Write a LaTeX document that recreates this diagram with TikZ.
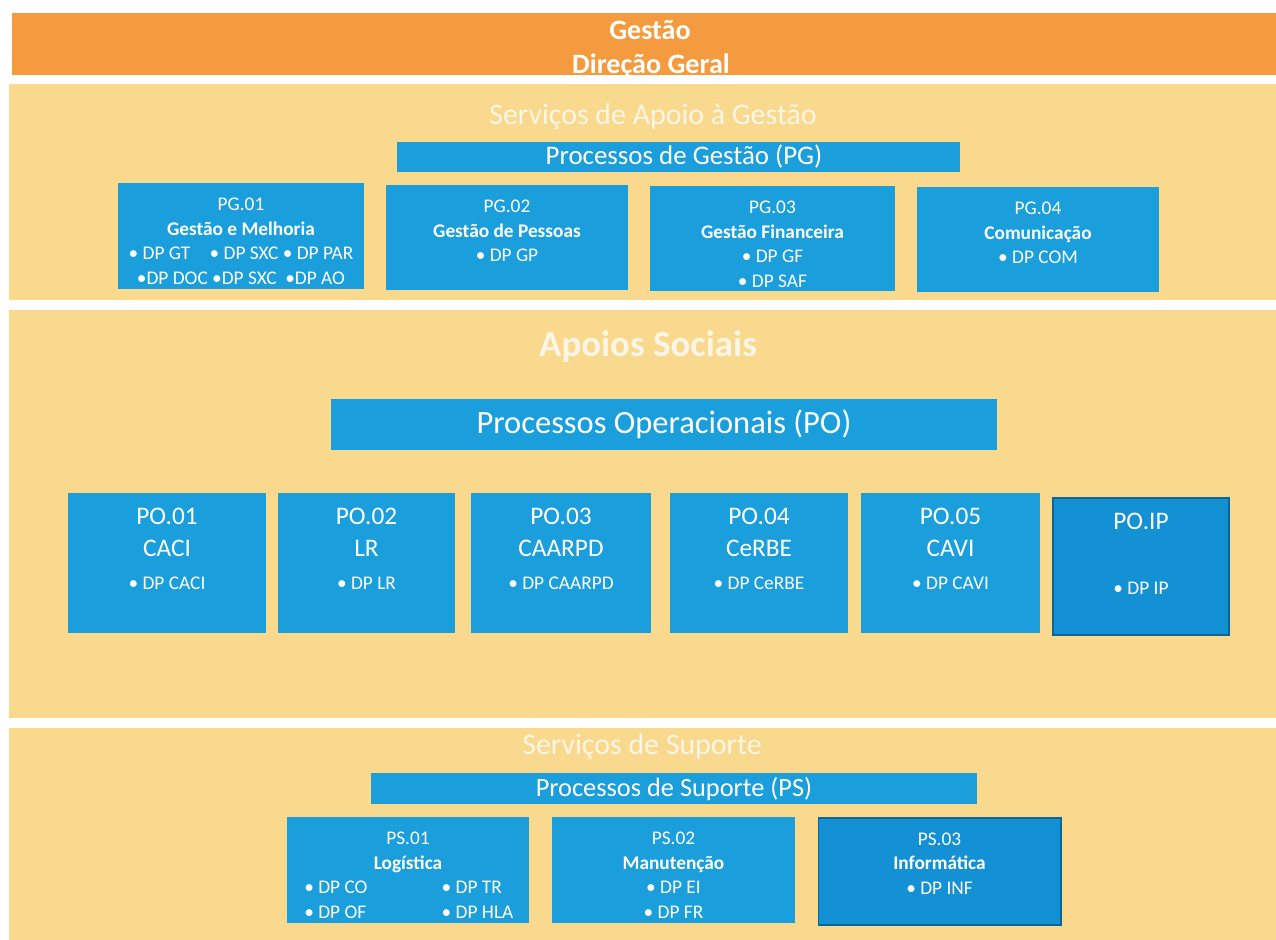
\documentclass[tikz,border=0pt]{standalone}
\usepackage{fontspec}
\setmainfont{Carlito}
\usetikzlibrary{positioning}
\definecolor{gestorange}{HTML}{F39B3E}
\definecolor{bandyellow}{HTML}{F9D98D}
\definecolor{procblue}{HTML}{1A9EDC}
\definecolor{procdark}{HTML}{1490D4}
\definecolor{fadewhite}{HTML}{FDF6E6}
\tikzset{
  proc/.style={fill=procblue, draw=none, inner sep=0pt},
  procdk/.style={proc, fill=procdark, draw=procdark!70!black, line width=0.6pt},
  boxtext/.style={text=white, align=center, inner sep=0pt, font=\fontsize{11}{14}\selectfont},
  bartext/.style={text=white, inner sep=0pt},
  title/.style={text=fadewhite, inner sep=0pt, font=\fontsize{17}{19}\selectfont}
}
% blue process box: [style]{name}{x,y}{width}{height}{text}
\newcommand{\procbox}[6][proc]{%
  \node[#1, minimum width=#4cm, minimum height=#5cm] (#2) at (#3) {};
  \node[boxtext, below=0.3cm of #2.north] (#2-t) {#6};}
\newcommand{\dpline}[1]{{\fontsize{11}{18.5}\selectfont • DP #1}}

\begin{document}
\begin{tikzpicture}[x=0.02cm, y=-0.02cm]
  \useasboundingbox (0,0) rectangle (1276,940);
  \fill[white] (0,0) rectangle (1276,940);
  % bands
  \fill[gestorange] (12,13) rectangle (1276,75);
  \fill[bandyellow] (9,84) rectangle (1276,300);
  \fill[bandyellow] (9,310) rectangle (1276,718);
  \fill[bandyellow] (9,728) rectangle (1276,940);

  \node[bartext, font=\fontsize{16}{18}\bfseries] (gestao) at (650,30) {Gestão};
  \node[bartext, font=\fontsize{16}{18}\bfseries] (direcao) at (651,66) {Direção Geral};

  % Servicos de Apoio a Gestao
  \node[title] (apoio) at (653,117) {Serviços de Apoio à Gestão};
  \node[proc, minimum width=11.26cm, minimum height=0.6cm] (pgbar) at (678.5,157) {};
  \node[bartext, font=\fontsize{15.3}{17}\selectfont] (pgbar-t) at (684,157) {Processos de Gestão (PG)};
  \procbox{pg1}{241,236}{4.92}{2.12}{PG.01\\\textbf{Gestão e Melhoria}\\• DP GT\quad • DP SXC • DP PAR\\•DP DOC •DP SXC\ \ •DP AO}
  \procbox{pg2}{507,237.5}{4.84}{2.1}{PG.02\\\textbf{Gestão de Pessoas}\\• DP GP}
  \procbox{pg3}{772.5,238.5}{4.9}{2.1}{PG.03\\\textbf{Gestão Financeira}\\• DP GF\\• DP SAF}
  \procbox{pg4}{1038,239.5}{4.84}{2.1}{PG.04\\\textbf{Comunicação}\\• DP COM}

  % Apoios Sociais
  \node[title, font=\fontsize{21}{23}\bfseries] (sociais) at (648,346) {Apoios Sociais};
  \node[proc, minimum width=13.32cm, minimum height=1.02cm] (pobar) at (664,424.5) {};
  \node[bartext, font=\fontsize{18.5}{20}\selectfont] (pobar-t) at (pobar) {Processos Operacionais (PO)};
  \begin{scope}[boxtext/.append style={font=\fontsize{14.4}{18.5}\selectfont}]
    \procbox{po1}{167,563}{3.96}{2.8}{PO.01\\CACI\\\dpline{CACI}}
    \procbox{po2}{366.5,563}{3.54}{2.8}{PO.02\\LR\\\dpline{LR}}
    \procbox{po3}{561,563}{3.6}{2.8}{PO.03\\CAARPD\\\dpline{CAARPD}}
    \procbox{po4}{759,563}{3.56}{2.8}{PO.04\\CeRBE\\\dpline{CeRBE}}
    \procbox{po5}{950.5,563}{3.58}{2.8}{PO.05\\CAVI\\\dpline{CAVI}}
    \procbox[procdk]{poip}{1141,566.5}{3.52}{2.74}{PO.IP\\\mbox{}\\\dpline{IP}}
  \end{scope}

  % Servicos de Suporte
  \node[title] (suporte) at (642,747) {Serviços de Suporte};
  \node[proc, minimum width=12.12cm, minimum height=0.62cm] (psbar) at (674,788.5) {};
  \node[bartext, font=\fontsize{15}{17}\selectfont] (psbar-t) at (psbar) {Processos de Suporte (PS)};
  \procbox{ps1}{408,870}{4.84}{2.12}{PS.01\\\textbf{Logística}\\\makebox[2.75cm][l]{• DP CO}\makebox[1.4cm][l]{• DP TR}\\\makebox[2.75cm][l]{• DP OF}\makebox[1.4cm][l]{• DP HLA}}
  \procbox{ps2}{673.5,870}{4.86}{2.12}{PS.02\\\textbf{Manutenção}\\• DP EI\\• DP FR}
  \procbox[procdk]{ps3}{939.5,871.5}{4.86}{2.14}{PS.03\\\textbf{Informática}\\• DP INF}
\end{tikzpicture}
\end{document}
